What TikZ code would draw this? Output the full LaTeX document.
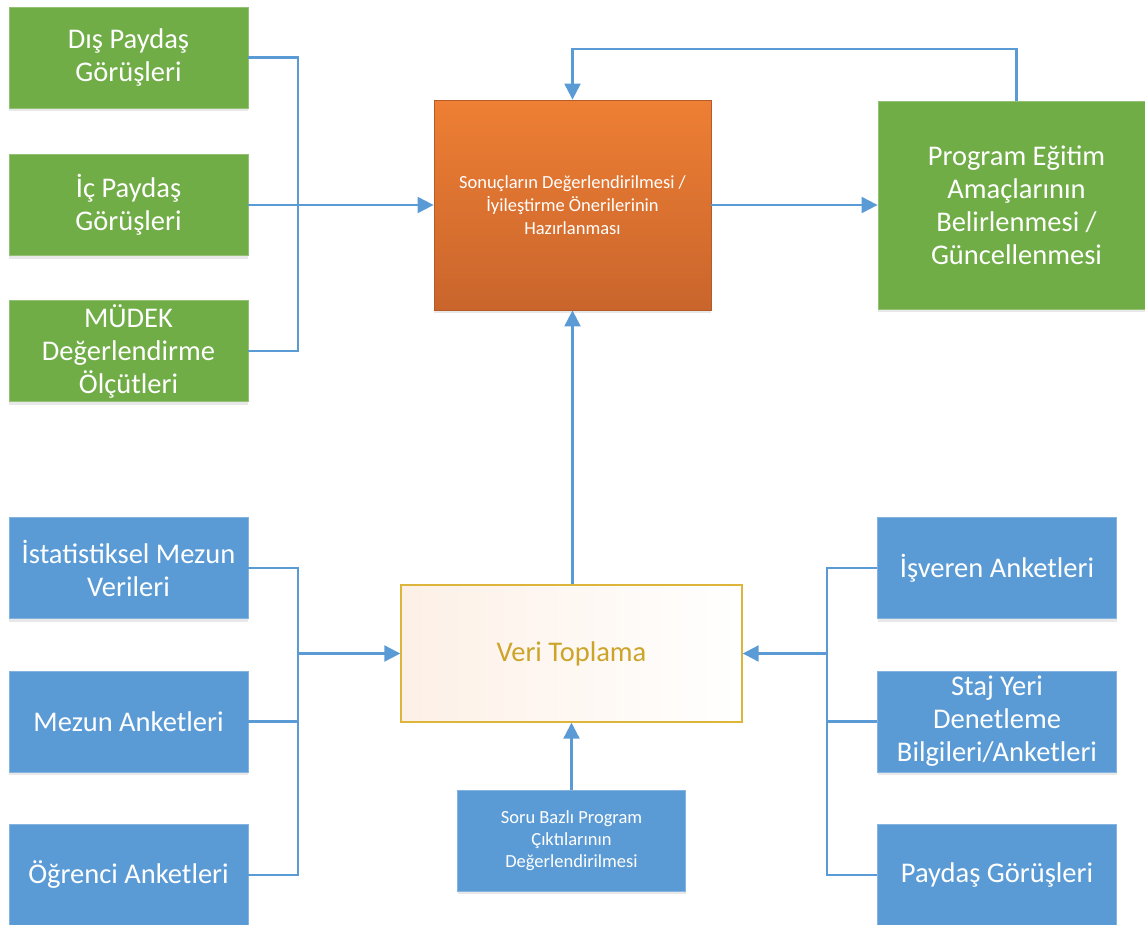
\documentclass[tikz,border=0pt]{standalone}
\usepackage{fontspec}
\setmainfont{Carlito}
\usepackage{tikz}
\usetikzlibrary{arrows.meta, positioning, shadows}
\definecolor{pgreen}{HTML}{70AD47}
\definecolor{pblue}{HTML}{5B9BD5}
\definecolor{porange}{HTML}{EE7F34}
\definecolor{pdarkorange}{HTML}{C9652C}
\definecolor{pgold}{HTML}{DDB53A}
\definecolor{pgoldtext}{HTML}{CCA42A}
\definecolor{ppeach}{HTML}{FDF0E6}
\tikzset{
    box/.style={rectangle, align=center, text=white, minimum width=239pt, minimum height=101pt, inner sep=2pt,
        drop shadow={opacity=0.18, shadow xshift=0pt, shadow yshift=-3pt}},
    gbox/.style={box, fill=pgreen, draw=pgreen!75!white, line width=0.8pt, font=\fontsize{28.5}{33}\selectfont},
    bbox/.style={box, fill=pblue, draw=pblue!75!white, line width=0.8pt, font=\fontsize{28.5}{33}\selectfont},
    obox/.style={rectangle, align=center, text=white, minimum width=277pt, minimum height=210pt,
        top color=porange, bottom color=pdarkorange, draw=pdarkorange!90!black, line width=0.8pt,
        font=\fontsize{18.5}{23}\selectfont,
        drop shadow={opacity=0.18, shadow xshift=0pt, shadow yshift=-3pt}},
    vbox/.style={rectangle, align=center, text=pgoldtext, minimum width=341pt, minimum height=137pt,
        left color=ppeach, right color=white, draw=pgold, line width=1.4pt,
        font=\fontsize{28.5}{33}\selectfont},
    link/.style={draw=pblue, line width=2.2pt},
    arrow/.style={link, ->}
}
\begin{document}
\begin{tikzpicture}[x=1pt, y=-1pt, >={Triangle[length=16pt,width=16pt]}]
    \useasboundingbox (0,0) rectangle (1145,924);

    % Top left: opinions and criteria
    \node (dis_paydas) [gbox] at (128.5,57.5) {Dış Paydaş\\ Görüşleri};
    \node (ic_paydas) [gbox] at (128.5,205) {İç Paydaş\\ Görüşleri};
    \node (mudek) [gbox] at (128.5,351) {MÜDEK\\ Değerlendirme\\ Ölçütleri};

    % Centre: evaluation and data collection
    \node (sonuc) [obox] at (572.5,205) {Sonuçların Değerlendirilmesi /\\ İyileştirme Önerilerinin\\ Hazırlanması};
    \node (pea) [gbox, minimum width=277pt, minimum height=208pt] at (1016.5,205) {Program Eğitim\\ Amaçlarının\\ Belirlenmesi /\\ Güncellenmesi};
    \node (veri) [vbox] at (571.5,653.5) {Veri Toplama};
    \node (soru) [bbox, minimum width=228pt, font=\fontsize{18.5}{22}\selectfont] at (571.5,840.5) {Soru Bazlı Program\\ Çıktılarının\\ Değerlendirilmesi};

    % Bottom left: graduate data
    \node (istat) [bbox] at (128.5,568) {İstatistiksel Mezun\\ Verileri};
    \node (mezun) [bbox] at (128.5,721.5) {Mezun Anketleri};
    \node (ogrenci) [bbox] at (128.5,875) {Öğrenci Anketleri};

    % Bottom right: employer and internship data
    \node (isveren) [bbox] at (997,568) {İşveren Anketleri};
    \node (staj) [bbox] at (997,721.5) {Staj Yeri\\ Denetleme\\ Bilgileri/Anketleri};
    \node (paydas) [bbox] at (997,875) {Paydaş Görüşleri};

    % Junction points
    \coordinate (gtrunk) at (298,205);
    \coordinate (btrunk) at (298,653.5);
    \coordinate (rtrunk) at (827,653.5);
    \coordinate (loop) at (572.5,49);

    % Connectors
    \draw[link] (dis_paydas.east) -| (gtrunk) |- (mudek.east);
    \draw[arrow] (ic_paydas.east) -- (sonuc.west);
    \draw[arrow] (sonuc.east) -- (pea.west);
    \draw[arrow] (pea.north) |- (loop) -- (sonuc.north);
    \draw[arrow] (veri.north -| sonuc.south) -- (sonuc.south);
    \draw[arrow] (soru.north) -- (veri.south);

    \draw[link] (istat.east) -| (btrunk) |- (ogrenci.east);
    \draw[link] (mezun.east) -- (mezun.east -| btrunk);
    \draw[arrow] (btrunk) -- (veri.west);

    \draw[link] (isveren.west) -| (rtrunk) |- (paydas.west);
    \draw[link] (staj.west) -- (staj.west -| rtrunk);
    \draw[arrow] (rtrunk) -- (veri.east);
\end{tikzpicture}
\end{document}
